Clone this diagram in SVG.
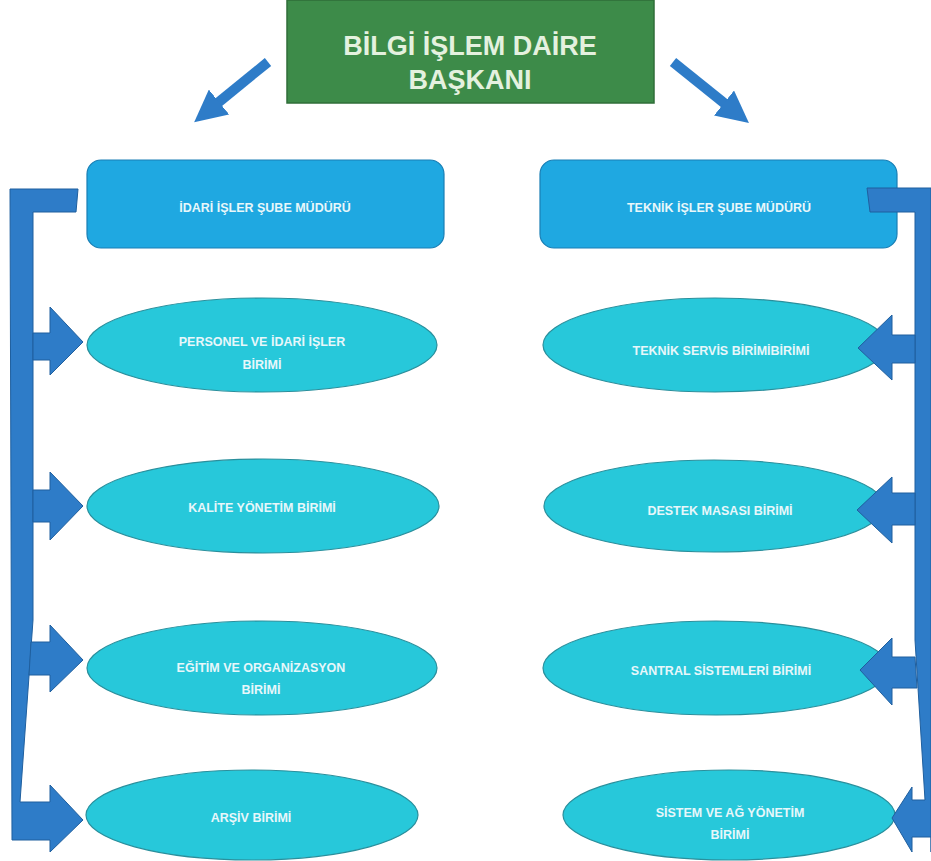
<svg xmlns="http://www.w3.org/2000/svg" width="931" height="861" viewBox="0 0 931 861">
<style>
.title{font-family:"Liberation Sans",Arial,sans-serif;font-size:27px;font-weight:bold;fill:#e4f1df;text-anchor:middle}
.lbl{font-family:"Liberation Sans",Arial,sans-serif;font-size:12.5px;font-weight:bold;fill:#e8f7fa;text-anchor:middle}
.mgr{fill:#1fa8e1;stroke:#1a7fb5;stroke-width:1.2}
.unit{fill:#27c8da;stroke:#2a8f9c;stroke-width:1.2}
.bar{fill:#2e7cc8;stroke:#1f5f9e;stroke-width:1}
.diag{stroke:#2e7cc8;stroke-width:10;fill:none}
</style>
<defs>
<marker id="ah" viewBox="0 0 10 10" refX="2" refY="5" markerWidth="3.2" markerHeight="3.2" orient="auto" markerUnits="strokeWidth">
<path d="M0,0 L10,5 L0,10 z" fill="#2e7cc8"/>
</marker>
</defs>
<rect width="931" height="861" fill="#ffffff"/>

<g id="n-baskan">
<rect x="287" y="0" width="367" height="103" fill="#3d8b49" stroke="#2f6e39" stroke-width="1.5"/>
<text class="title" x="470" y="55">BİLGİ İŞLEM DAİRE</text>
<text class="title" x="470" y="89">BAŞKANI</text>
</g>

<g id="n-idari">
<rect class="mgr" x="87" y="160" width="357" height="88" rx="14"/>
<text class="lbl" x="265" y="212">İDARİ İŞLER ŞUBE MÜDÜRÜ</text>
</g>
<g id="n-teknik">
<rect class="mgr" x="540" y="160" width="357" height="88" rx="14"/>
<text class="lbl" x="719" y="212">TEKNİK İŞLER ŞUBE MÜDÜRÜ</text>
</g>

<g id="n-personel">
<ellipse class="unit" cx="262" cy="345" rx="175" ry="47"/>
<text class="lbl" x="262" y="346">PERSONEL VE İDARİ İŞLER</text>
<text class="lbl" x="262" y="369">BİRİMİ</text>
</g>
<g id="n-kalite">
<ellipse class="unit" cx="263" cy="506" rx="176" ry="47"/>
<text class="lbl" x="262" y="512">KALİTE YÖNETİM BİRİMİ</text>
</g>
<g id="n-egitim">
<ellipse class="unit" cx="262" cy="668" rx="175" ry="47"/>
<text class="lbl" x="261" y="672">EĞİTİM VE ORGANİZASYON</text>
<text class="lbl" x="261" y="694">BİRİMİ</text>
</g>
<g id="n-arsiv">
<ellipse class="unit" cx="252" cy="815" rx="166" ry="45"/>
<text class="lbl" x="251" y="822">ARŞİV BİRİMİ</text>
</g>

<g id="n-servis">
<ellipse class="unit" cx="715" cy="345" rx="172" ry="47"/>
<text class="lbl" x="721" y="355">TEKNİK SERVİS BİRİMİBİRİMİ</text>
</g>
<g id="n-destek">
<ellipse class="unit" cx="714" cy="506" rx="170" ry="46"/>
<text class="lbl" x="720" y="515">DESTEK MASASI BİRİMİ</text>
</g>
<g id="n-santral">
<ellipse class="unit" cx="716" cy="668" rx="173" ry="47"/>
<text class="lbl" x="721" y="675">SANTRAL SİSTEMLERİ BİRİMİ</text>
</g>
<g id="n-sistem">
<ellipse class="unit" cx="729" cy="815" rx="166" ry="45"/>
<text class="lbl" x="730" y="817">SİSTEM VE AĞ YÖNETİM</text>
<text class="lbl" x="730" y="839">BİRİMİ</text>
</g>

<g id="connectors">
<line class="diag" x1="268" y1="62" x2="214" y2="106" marker-end="url(#ah)"/>
<line class="diag" x1="673" y1="62" x2="729" y2="107" marker-end="url(#ah)"/>

<path class="bar" d="M10,189 L78,189 L76,212 L33,212 L33,620 L20,802 L50,802 L50,785 L83,820 L50,852 L50,840 L12,840 Z"/>
<path class="bar" d="M33,333 L50,333 L50,307 L83,342 L50,375 L50,360 L33,360 Z"/>
<path class="bar" d="M33,490 L50,490 L50,472 L83,506 L50,540 L50,522 L33,522 Z"/>
<path class="bar" d="M31,642 L50,642 L50,625 L83,660 L50,692 L50,675 L29,675 Z"/>

<path class="bar" d="M867,188 L931,188 L931,852 L931,837 L912,837 L912,852 L892,818 L912,787 L912,800 L925,800 L915,640 L915,212 L870,212 Z"/>
<path class="bar" d="M915,335 L892,335 L892,315 L858,348 L892,380 L892,363 L915,363 Z"/>
<path class="bar" d="M915,493 L892,493 L892,477 L857,510 L892,543 L892,525 L915,525 Z"/>
<path class="bar" d="M915,657 L892,657 L892,638 L860,670 L892,705 L892,688 L917,688 Z"/>
</g>
</svg>
